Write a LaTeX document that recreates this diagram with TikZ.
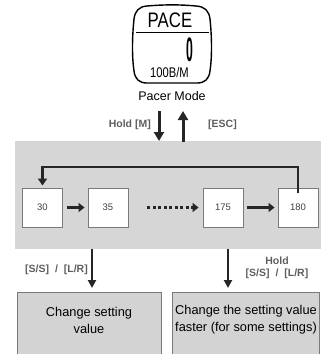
\documentclass[tikz,border=0pt]{standalone}
\usepackage{fontspec}
\setmainfont{Liberation Sans}
\usetikzlibrary{arrows.meta}
\definecolor{panelgray}{HTML}{D6D6D6}
\definecolor{boxgray}{HTML}{D3D3D3}
\definecolor{edgegray}{HTML}{7A7A7A}
\definecolor{labelgray}{HTML}{5E5E5E}
\definecolor{arrowdark}{HTML}{262626}
\begin{document}
\begin{tikzpicture}[x=1pt,y=-1pt,
  bigarrow/.style={draw=arrowdark,line width=3pt,-{Triangle[width=10pt,length=9pt]}},
  smallarrow/.style={draw=arrowdark,line width=3.5pt,-{Triangle[width=9pt,length=6pt]}},
  looparrow/.style={draw=arrowdark,line width=2.6pt,line join=miter,-{Triangle[width=9pt,length=7pt]}},
  valbox/.style={draw=edgegray,line width=0.9pt,fill=white,minimum width=40pt,minimum height=39pt,
    inner sep=0pt,font=\fontsize{9.5}{10}\selectfont,text=black!75},
  infobox/.style={draw=edgegray,line width=1.1pt,fill=boxgray,inner sep=0pt},
  infotext/.style={align=center,font=\fontsize{12.8}{17}\selectfont,inner sep=0pt},
  keylabel/.style={font=\bfseries\fontsize{10.5}{12}\selectfont,text=labelgray,inner sep=0pt}
]
\useasboundingbox (0,0) rectangle (321,354);
\clip (0,0) rectangle (321,354);

% watch face outline
\draw[line width=1.4pt,line join=round]
  (147,6) .. controls (165,4.5) and (180,4.5) .. (196,6)
  .. controls (205,6.5) and (209,11) .. (210,19)
  .. controls (212,38) and (212,58) .. (210,71)
  .. controls (209,79) and (205,83) .. (197,83)
  -- (147,83)
  .. controls (139,83) and (135,79) .. (134,71)
  .. controls (132,58) and (132,38) .. (134,19)
  .. controls (135,11) and (139,6.5) .. (147,6) -- cycle;
\node[inner sep=0pt,font=\fontsize{21}{21}\selectfont,xscale=0.8] (pace) at (170,20) {PACE};
\coordinate (rulel) at (136,32.5);
\coordinate (ruler) at (209,32.5);
\draw[line width=1.3pt] (rulel) -- (ruler);
\node[inner sep=0pt,font=\bfseries\fontsize{34}{34}\selectfont,xscale=0.36] (digit) at (189.5,50) {0};
\node[inner sep=0pt,font=\fontsize{14}{14}\selectfont,xscale=0.8] (rate) at (169.5,72) {100B/M};
\node[inner sep=0pt,font=\fontsize{12.5}{12.5}\selectfont] (pacer) at (172,96) {Pacer Mode};

% shaded panel with the value sequence
\node[fill=panelgray,minimum width=306pt,minimum height=108pt,inner sep=0pt,anchor=north west] (panel) at (15,141) {};
\node[valbox] (v30) at (42.5,207.5) {30};
\node[valbox] (v35) at (108,207.5) {35};
\node[valbox] (v175) at (223,207.5) {175};
\node[valbox] (v180) at (298,207.5) {180};

\draw[smallarrow,shorten <=4pt,shorten >=3pt] (v30) -- (v35);
\draw[smallarrow,shorten <=4pt,shorten >=3pt] (v175) -- (v180);
\draw[draw=arrowdark,line width=3.5pt,dash pattern=on 3pt off 2.5pt,
  -{Triangle[width=9pt,length=6pt]},shorten <=19pt,shorten >=4pt] (v35) -- (v175);

% wrap-around from the last value back to the first
\coordinate (loopr) at (298,167);
\draw[looparrow,shorten >=2pt] ([yshift=-5pt]v180.north) -- (loopr) -| (v30.north);

% entering and leaving the mode
\coordinate (mdown) at (159,111);
\coordinate (escup) at (183,142);
\draw[bigarrow] (mdown) -- (mdown |- panel.north);
\draw[bigarrow] (escup) -- (183,111);
\node[keylabel,anchor=east] (holdm) at (151,125) {Hold [M]};
\node[keylabel,anchor=west] (esc) at (208,125) {[ESC]};

% result boxes
\node[infobox,minimum width=144pt,minimum height=80pt,anchor=north west] (slow) at (17,292) {};
\node[infobox,minimum width=147pt,minimum height=80pt,anchor=north west] (fast) at (172,292) {};
\node[infotext] (slowtext) at (89,320) {Change setting\\value};
\node[infotext] (fasttext) at (246,320) {Change the setting value\\faster (for some settings)};

\draw[bigarrow,line width=2.6pt,-{Triangle[width=8pt,length=8pt]},shorten >=4pt] (92,249) -- (92,292);
\draw[bigarrow,line width=2.6pt,-{Triangle[width=8pt,length=8pt]},shorten >=4pt] (228,249) -- (228,292);
\node[keylabel,anchor=east] (press) at (88,270) {[S/S]\hspace{3pt} / \hspace{3pt}[L/R]};
\node[keylabel,align=center] (hold) at (277,268) {Hold\\{}[S/S]\hspace{3pt} / \hspace{3pt}[L/R]};
\end{tikzpicture}
\end{document}
